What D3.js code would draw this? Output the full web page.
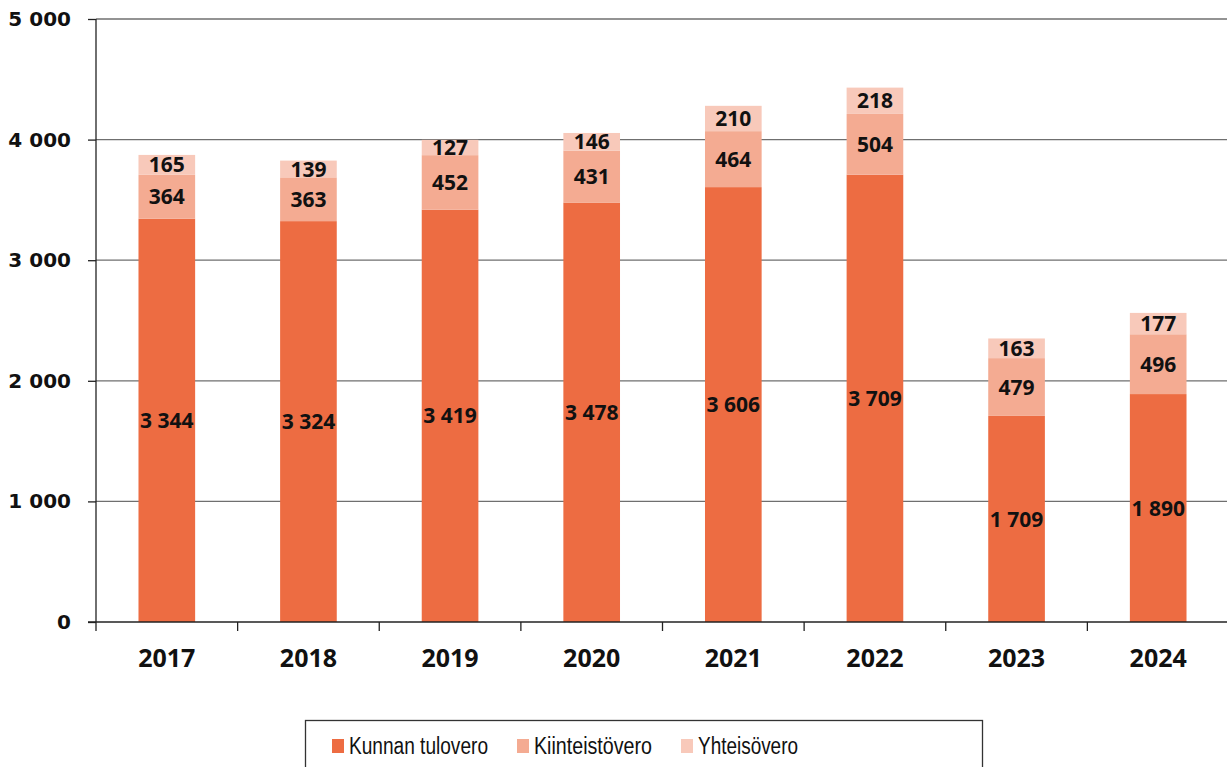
<!DOCTYPE html>
<html><head><meta charset="utf-8">
<script src="https://cdn.jsdelivr.net/npm/d3@7"></script>
<style>body{margin:0;background:#fff}svg{display:block}</style>
</head><body>
<svg id="c" width="1227" height="767"></svg>
<script>
const years = ["2017","2018","2019","2020","2021","2022","2023","2024"];
const seriesNames = ["Kunnan tulovero","Kiinteistövero","Yhteisövero"];
const kunnan = [3344,3324,3419,3478,3606,3709,1709,1890];
const kiinteisto = [364,363,452,431,464,504,479,496];
const yhteiso = [165,139,127,146,210,218,163,177];
const yTicks = [0,1000,2000,3000,4000,5000];
const colors = ["#ED6C42","#F4AB92","#F8C9BA"];

const svg = d3.select("#c");
const x0 = 96, x1 = 1229, yTop = 19, yBot = 622;
const x = d3.scaleBand().domain(years).range([x0,x1]).paddingInner(0.6).paddingOuter(0.3);
const y = d3.scaleLinear().domain([0,5000]).range([yBot,yTop]);
const fmt = v => d3.format(",")(v).replace(/,/g," ");

// gridlines
svg.append("g").selectAll("line").data(yTicks.filter(d=>d>0)).join("line")
  .attr("x1",x0).attr("x2",1227).attr("y1",d=>y(d)).attr("y2",d=>y(d))
  .attr("stroke","#6f6f6f").attr("stroke-width",1.3);

const rows = years.map((yr,i)=>({year:yr,"Kunnan tulovero":kunnan[i],"Kiinteistövero":kiinteisto[i],"Yhteisövero":yhteiso[i]}));
const stack = d3.stack().keys(seriesNames)(rows);

const g = svg.append("g");
stack.forEach((s,si)=>{
  g.selectAll(null).data(s).join("rect")
    .attr("x",d=>x(d.data.year)).attr("width",x.bandwidth())
    .attr("y",d=>y(d[1])).attr("height",d=>y(d[0])-y(d[1]))
    .attr("fill",colors[si]);
  g.selectAll(null).data(s).join("text")
    .attr("x",d=>x(d.data.year)+x.bandwidth()/2)
    .attr("y",d=>(y(d[0])+y(d[1]))/2)
    .attr("dy","0.36em").attr("text-anchor","middle")
    .attr("font-family","'Open Sans', 'DejaVu Sans', sans-serif").attr("font-weight","bold")
    .attr("font-size","21px").attr("fill","#111")
    .text(d=>fmt(d[1]-d[0]));
});

// y axis
const yAxis = d3.axisLeft(y).tickValues(yTicks).tickSize(8).tickPadding(17).tickFormat(fmt);
const ya = svg.append("g").attr("transform",`translate(${x0},0)`).call(yAxis);
ya.select(".domain").attr("stroke","#222").attr("stroke-width",1.3).attr("d",`M0,${yTop}V${yBot}`);
ya.selectAll(".tick line").attr("stroke","#222").attr("stroke-width",1.3);
ya.selectAll(".tick text").attr("font-family","'DejaVu Sans', sans-serif").attr("font-weight","bold")
  .attr("font-size","20px").attr("fill","#111");

// x axis
const xa = svg.append("g").attr("transform",`translate(0,${yBot})`);
xa.append("line").attr("x1",88).attr("x2",1227).attr("stroke","#222").attr("stroke-width",1.3);
const step = x.step();
xa.selectAll("line.t").data(d3.range(years.length)).join("line").attr("class","t")
  .attr("x1",i=>x0+i*step).attr("x2",i=>x0+i*step).attr("y1",0).attr("y2",9)
  .attr("stroke","#222").attr("stroke-width",1.3);
xa.selectAll("text").data(years).join("text")
  .attr("x",d=>x(d)+x.bandwidth()/2).attr("y",45).attr("text-anchor","middle")
  .attr("font-family","'Open Sans', 'DejaVu Sans', sans-serif").attr("font-weight","bold")
  .attr("font-size","25px").attr("fill","#111").text(d=>d);

// legend
const lg = svg.append("g");
lg.append("rect").attr("x",305.5).attr("y",720.5).attr("width",677).attr("height",60)
  .attr("fill","#fff").attr("stroke","#333").attr("stroke-width",1.3);
const lx = [332,517,681];
const lw = [139,118,100];
seriesNames.forEach((n,i)=>{
  lg.append("rect").attr("x",lx[i]).attr("y",739).attr("width",12).attr("height",14).attr("fill",colors[i]);
  lg.append("text").attr("x",lx[i]+17).attr("y",746).attr("dy","0.36em")
    .attr("font-family","'Liberation Sans', sans-serif").attr("font-size","23px")
    .attr("textLength",lw[i]).attr("lengthAdjust","spacingAndGlyphs")
    .attr("fill","#111").text(n);
});
</script>
</body></html>
